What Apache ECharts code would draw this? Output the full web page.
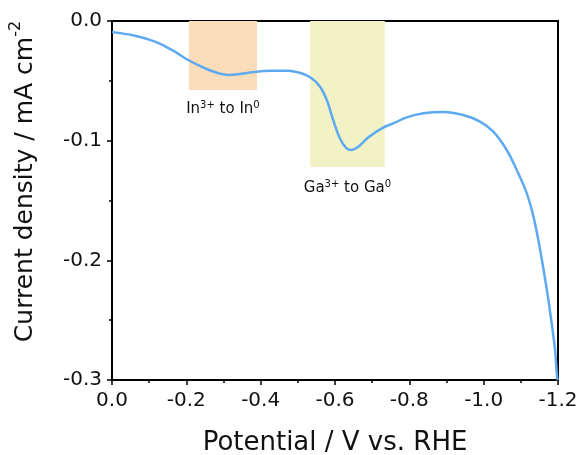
<!DOCTYPE html>
<html><head><meta charset="utf-8">
<script src="https://cdn.jsdelivr.net/npm/echarts@6/dist/echarts.min.js"></script>
<style>html,body{margin:0;padding:0;background:#fff}#c{width:581px;height:455px}</style>
</head><body><div id="c"></div>
<script>
const potential = [0, -0.062, -0.116, -0.161, -0.205, -0.250, -0.286, -0.313, -0.340, -0.376, -0.407, -0.430, -0.474, -0.510, -0.537, -0.560, -0.578, -0.595, -0.613, -0.631, -0.645, -0.663, -0.690, -0.726, -0.761, -0.793, -0.838, -0.891, -0.945, -0.990, -1.026, -1.062, -1.089, -1.116, -1.134, -1.152, -1.170, -1.183, -1.192, -1.198, -1.200];
const current = [-0.0093, -0.0123, -0.0173, -0.0242, -0.0326, -0.0395, -0.0437, -0.0451, -0.0445, -0.0429, -0.0418, -0.0415, -0.0415, -0.0437, -0.0479, -0.0549, -0.0660, -0.0827, -0.0980, -0.1064, -0.1078, -0.1050, -0.0972, -0.0897, -0.0850, -0.0805, -0.0771, -0.0760, -0.0786, -0.0841, -0.0925, -0.1078, -0.1245, -0.1440, -0.1635, -0.1914, -0.2248, -0.2526, -0.2749, -0.2986, -0.3000];
const inRegion = {x: [-0.207, -0.39], y: [0, -0.0577], label: '{n|In}{s|3+}{n| to In}{s|0}'};
const gaRegion = {x: [-0.533, -0.734], y: [0, -0.122], label: '{n|Ga}{s|3+}{n| to Ga}{s|0}'};
const xTitle = 'Potential / V vs. RHE';
const yTitle = '{t|Current density / mA cm}{s|-2}';

const FONT = 'DejaVu Sans';
const chart = echarts.init(document.getElementById('c'));
const fmt = v => (Math.abs(v) < 1e-9 ? '0.0' : v.toFixed(1));
const richAnno = {
  n: {fontFamily: FONT, fontSize: 15, color: '#111', lineHeight: 17, verticalAlign: 'bottom'},
  s: {fontFamily: FONT, fontSize: 10, color: '#111', lineHeight: 17, verticalAlign: 'top'}
};
chart.setOption({
  animation: false,
  backgroundColor: '#fff',
  grid: {left: 112, right: 23, top: 21, bottom: 75, outerBoundsMode: 'none', containLabel: false,
    show: true, borderColor: '#000', borderWidth: 2, backgroundColor: 'transparent'},
  xAxis: {
    type: 'value', min: -1.2, max: 0, interval: 0.2, inverse: true,
    name: xTitle, nameLocation: 'middle', nameGap: 50,
    nameTextStyle: {fontFamily: FONT, fontSize: 26, color: '#111'},
    axisLine: {show: true, onZero: false, lineStyle: {color: '#000', width: 2}},
    axisTick: {show: true, inside: false, length: 5, lineStyle: {color: '#000', width: 1.5}},
    minorTick: {show: true, splitNumber: 2, length: 3, lineStyle: {color: '#000', width: 1.5}},
    splitLine: {show: false},
    axisLabel: {formatter: fmt, fontFamily: FONT, fontSize: 20, color: '#111', margin: 11}
  },
  yAxis: {
    type: 'value', min: -0.3, max: 0, interval: 0.1,
    name: yTitle, nameLocation: 'middle', nameGap: 74, nameRotate: 90,
    nameTextStyle: {padding: [0, 0, 0, 38], rich: {
      t: {fontFamily: FONT, fontSize: 25, color: '#111', lineHeight: 30, verticalAlign: 'bottom'},
      s: {fontFamily: FONT, fontSize: 16, color: '#111', lineHeight: 30, verticalAlign: 'top'}
    }},
    axisLine: {show: true, onZero: false, lineStyle: {color: '#000', width: 2}},
    axisTick: {show: true, inside: false, length: 5, lineStyle: {color: '#000', width: 1.5}},
    minorTick: {show: true, splitNumber: 2, length: 3, lineStyle: {color: '#000', width: 1.5}},
    splitLine: {show: false},
    axisLabel: {formatter: fmt, fontFamily: FONT, fontSize: 20, color: '#111', margin: 10}
  },
  series: [{
    type: 'line', smooth: 0.4, symbol: 'none',
    data: potential.map((p, i) => [p, current[i]]),
    lineStyle: {color: '#5DAAF0', width: 2.5},
    z: 5,
    markArea: {
      silent: true,
      data: [
        [{xAxis: inRegion.x[0], yAxis: inRegion.y[0], itemStyle: {color: '#FBDDBA'},
          label: {show: true, position: 'bottom', distance: 10, formatter: inRegion.label, rich: richAnno}},
         {xAxis: inRegion.x[1], yAxis: inRegion.y[1]}],
        [{xAxis: gaRegion.x[0], yAxis: gaRegion.y[0], itemStyle: {color: '#F2F2C6'},
          label: {show: true, position: 'bottom', distance: 12, formatter: gaRegion.label, rich: richAnno}},
         {xAxis: gaRegion.x[1], yAxis: gaRegion.y[1]}]
      ]
    }
  }]
});
</script></body></html>
